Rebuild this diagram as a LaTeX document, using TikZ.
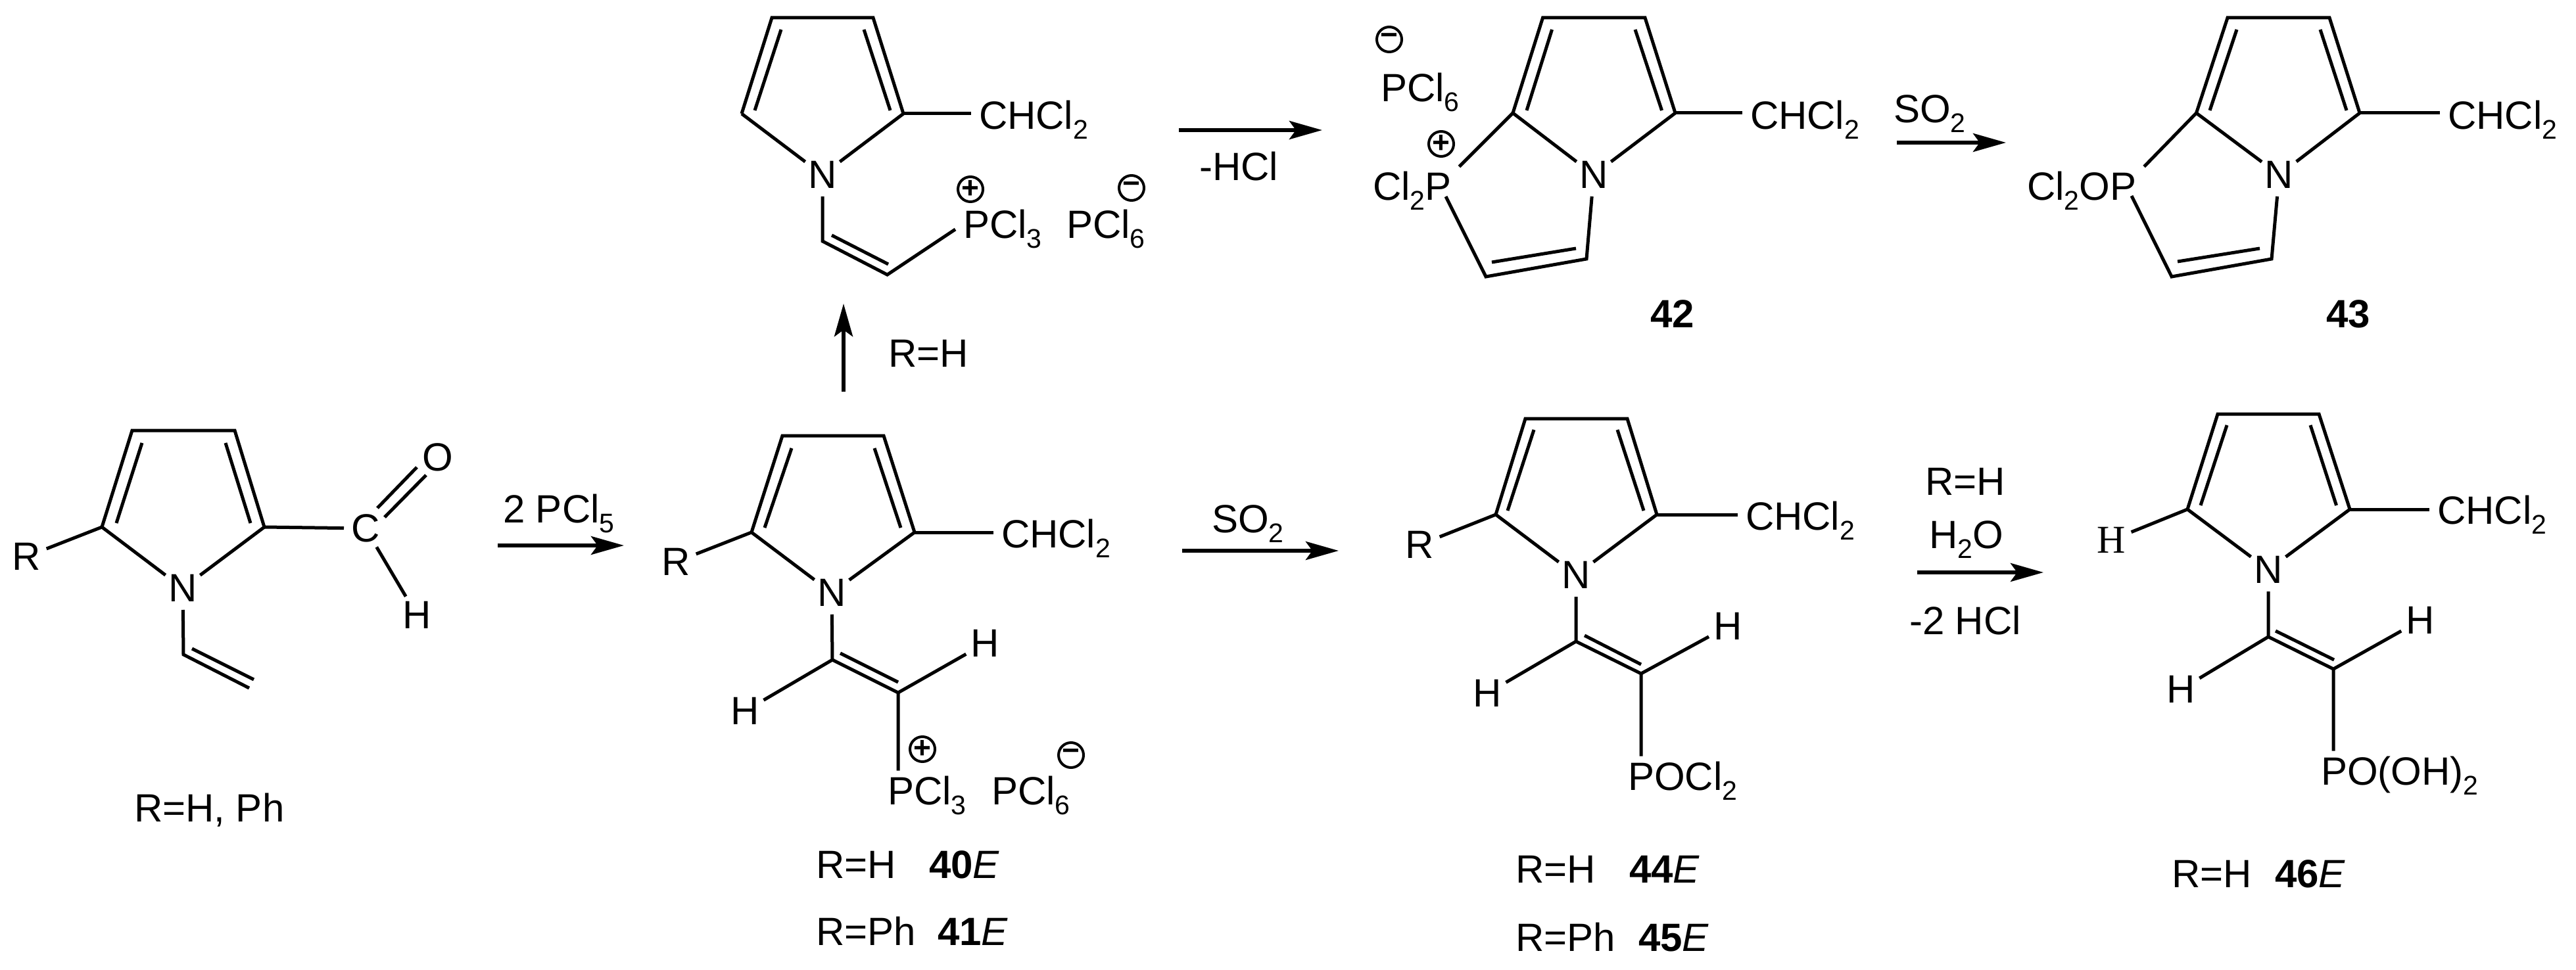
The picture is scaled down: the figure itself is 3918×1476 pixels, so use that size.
\documentclass[tikz,border=0pt]{standalone}
\usepackage{fontspec}
\setmainfont{Liberation Sans}
\newfontfamily\atomserif{Liberation Serif}
\usetikzlibrary{arrows.meta,calc}
\newcommand\fs{\fontsize{30}{32}\selectfont}
\newcommand\dn[1]{\raisebox{-7.5pt}{\fontsize{20.5}{22}\selectfont #1}}
\newcommand\pts[1]{\foreach \n/\x/\y in {#1}{\coordinate (\n) at (\x,\y);}}
\tikzset{
  bond/.style={line width=2.5pt,line join=miter},
  rxn/.style={line width=2.9pt,-{Stealth[length=25pt,width=14pt,inset=5pt]}},
  atom/.style={circle,inner sep=0pt,outer sep=0pt,minimum size=33pt,font=\fs},
  grp/.style={anchor=base west,inner xsep=6pt,inner ysep=4pt,outer sep=0pt,xshift=-7pt,font=\fs},
  txt/.style={anchor=base west,inner sep=0pt,outer sep=0pt,xshift=-2pt,font=\fs},
  ion/.style={circle,draw,line width=2pt,inner sep=0pt,outer sep=0pt,minimum size=19pt,font=\fontsize{23}{24}\selectfont\bfseries},
}
\begin{document}
\begin{tikzpicture}[x=0.5pt,y=-0.5pt]
\useasboundingbox (0,0) rectangle (3918,1476);
% ---------- starting aldehyde
\pts{a1/155/802,at1/201/655,at2/357/655,a2/402/802,a1i/177/796,at1i/216/674,a2i/381/796,at2i/343/674,
     av/279/996,ave/379/1047,avi/292/987,avei/386/1034,
     ao1/574/773,ao2/634/711,ao3/585/787,ao4/648/723}
\node[atom] (aN) at (278,895) {N};
\node[atom] (aR) at (40,847) {R};
\node[atom] (aC) at (556,804) {C};
\node[atom] (aO) at (666,696) {O};
\node[atom] (aH) at (634,936) {H};
\draw[bond] (a1) -- (at1) -- (at2) -- (a2);
\draw[bond] (a1) -- (aN); \draw[bond] (a2) -- (aN);
\draw[bond] (a1i) -- (at1i); \draw[bond] (a2i) -- (at2i);
\draw[bond] (a1) -- (aR);
\draw[bond] (a2) -- (aC);
\draw[bond] (aC) -- (aH);
\draw[bond] (ao1) -- (ao2); \draw[bond] (ao3) -- (ao4);
\draw[bond] (aN) -- (av) -- (ave); \draw[bond] (avi) -- (avei);
\node[txt] (aname) at (208,1250) {R=H, Ph};
% ---------- arrow 1
\pts{r1s/757/830,r1e/949/830}
\draw[rxn] (r1s) -- (r1e);
\node[txt] (r1t) at (769,795) {2 PCl\dn{5}};
% ---------- top Z cation
\pts{b1/1128/173,bt1/1174/27,bt2/1328/27,b2/1374/173,b1i/1148/168,bt1i/1188/45,b2i/1354/168,bt2i/1314/45,
     bv/1251/367,bw/1349.5/418,bvi/1265/358,bwi/1351/402}
\node[atom] (bN) at (1251,266) {N};
\node[grp] (bG) at (1491,197) {CHCl\dn{2}};
\node[grp] (bP) at (1467,363) {PCl\dn{3}};
\node[txt] (bA) at (1626,363) {PCl\dn{6}};
\node[ion] (bplus) at (1476,288) {+};
\node[ion] (bminus) at (1721,286) {−};
\draw[bond] (b1) -- (bt1) -- (bt2) -- (b2);
\draw[bond] (b1) -- (bN); \draw[bond] (b2) -- (bN);
\draw[bond] (b1i) -- (bt1i); \draw[bond] (b2i) -- (bt2i);
\draw[bond] (b2) -- (b2 -| bG.west);
\draw[bond] (bN) -- (bv) -- (bw) -- (bP.west);
\draw[bond] (bvi) -- (bwi);
% ---------- arrow up
\pts{rus/1283/596,rue/1283/462}
\draw[rxn] (rus) -- (rue);
\node[txt] (rut) at (1355,558) {R=H};
% ---------- arrow -HCl
\pts{r2s/1793/198,r2e/2011/198}
\draw[rxn] (r2s) -- (r2e);
\node[txt] (r2t) at (1828,275) {-HCl};
% ---------- 42
\pts{c1/2301/172,ct1/2346.5/27,ct2/2502/27,c2/2548/172,c1i/2322/168,ct1i/2360.5/45,c2i/2527.5/168,ct2i/2487/45,
     cp/2199/299,cv/2260/421,cw/2413/394,cvi/2269/399,cwi/2397/378}
\node[atom] (cN) at (2424,266) {N};
\node[grp] (cG) at (2664,197) {CHCl\dn{2}};
\node[grp] (cP) at (2090,305) {Cl\dn{2}P};
\node[txt] (cA) at (2104,155) {PCl\dn{6}};
\node[ion] (cminus) at (2113,60) {−};
\node[ion] (cplus) at (2192,219) {+};
\node[txt,font=\fs\bfseries] (c42) at (2514,498) {42};
\draw[bond] (c1) -- (ct1) -- (ct2) -- (c2);
\draw[bond] (c1) -- (cN); \draw[bond] (c2) -- (cN);
\draw[bond] (c1i) -- (ct1i); \draw[bond] (c2i) -- (ct2i);
\draw[bond] (c2) -- (c2 -| cG.west);
\draw[bond] (c1) -- (cP.north east);
\draw[bond] (cp) -- (cv) -- (cw) -- (cN);
\draw[bond] (cvi) -- (cwi);
% ---------- arrow SO2 top
\pts{r3s/2885/217,r3e/3051/217}
\draw[rxn] (r3s) -- (r3e);
\node[txt] (r3t) at (2884,187) {SO\dn{2}};
% ---------- 43
\pts{d1/3340.5/172,dt1/3388/27,dt2/3543/27,d2/3589/172,d1i/3361/168,dt1i/3402/45,d2i/3569/168,dt2i/3529/45,
     dp/3242/298,dv/3303/421,dw/3455/394,dvi/3312/398,dwi/3437/378}
\node[atom] (dN) at (3466.5,266) {N};
\node[grp] (dG) at (3725,197) {CHCl\dn{2}};
\node[grp] (dP) at (3085,305) {Cl\dn{2}OP};
\node[txt,font=\fs\bfseries] (d43) at (3542,498) {43};
\draw[bond] (d1) -- (dt1) -- (dt2) -- (d2);
\draw[bond] (d1) -- (dN); \draw[bond] (d2) -- (dN);
\draw[bond] (d1i) -- (dt1i); \draw[bond] (d2i) -- (dt2i);
\draw[bond] (d2) -- (d2 -| dG.west);
\draw[bond] (d1) -- (dP.north east);
\draw[bond] (dp) -- (dv) -- (dw) -- (dN);
\draw[bond] (dvi) -- (dwi);
% ---------- 40E / 41E
\pts{e1/1143/810,et1/1190/663,et2/1344/663,e2/1391/810,e1i/1163/803,et1i/1204/682,e2i/1370/803,et2i/1330/682,
     ev/1266/1004,ew/1366/1054,evi/1278/994,ewi/1366/1038}
\node[atom] (eN) at (1265,902) {N};
\node[atom] (eR) at (1028,855) {R};
\node[atom] (eH1) at (1133,1082) {H};
\node[atom] (eH2) at (1498,979) {H};
\node[grp] (eG) at (1525,833) {CHCl\dn{2}};
\node[grp] (eP) at (1352,1224) {PCl\dn{3}};
\node[txt] (eA) at (1512,1224) {PCl\dn{6}};
\node[ion] (eplus) at (1403,1140) {+};
\node[ion] (eminus) at (1629,1149) {−};
\draw[bond] (e1) -- (et1) -- (et2) -- (e2);
\draw[bond] (e1) -- (eN); \draw[bond] (e2) -- (eN);
\draw[bond] (e1i) -- (et1i); \draw[bond] (e2i) -- (et2i);
\draw[bond] (e1) -- (eR);
\draw[bond] (e2) -- (e2 -| eG.west);
\draw[bond] (eN) -- (ev) -- (ew) -- (ew |- eP.north);
\draw[bond] (evi) -- (ewi);
\draw[bond] (ev) -- (eH1); \draw[bond] (ew) -- (eH2);
\node[txt] (el1) at (1245,1336) {R=H};
\node[txt] (en1) at (1417,1336) {\textbf{40}\textit{E}};
\node[txt] (el2) at (1245,1438) {R=Ph};
\node[txt] (en2) at (1430,1438) {\textbf{41}\textit{E}};
% ---------- arrow SO2 lower
\pts{r4s/1798/838,r4e/2036/838}
\draw[rxn] (r4s) -- (r4e);
\node[txt] (r4t) at (1847,810) {SO\dn{2}};
% ---------- 44E / 45E
\pts{f1/2275/783,ft1/2320/637,ft2/2475/637,f2/2520/783,f1i/2293/777,ft1i/2333/654,f2i/2500/777,ft2i/2460/654,
     fv/2397/976,fw/2496/1025,fvi/2410/967,fwi/2496/1011}
\node[atom] (fN) at (2397,875) {N};
\node[atom] (fR) at (2159,829) {R};
\node[atom] (fH1) at (2262,1055) {H};
\node[atom] (fH2) at (2628,953) {H};
\node[grp] (fG) at (2657,806) {CHCl\dn{2}};
\node[grp] (fP) at (2478,1202) {POCl\dn{2}};
\draw[bond] (f1) -- (ft1) -- (ft2) -- (f2);
\draw[bond] (f1) -- (fN); \draw[bond] (f2) -- (fN);
\draw[bond] (f1i) -- (ft1i); \draw[bond] (f2i) -- (ft2i);
\draw[bond] (f1) -- (fR);
\draw[bond] (f2) -- (f2 -| fG.west);
\draw[bond] (fN) -- (fv) -- (fw) -- (fw |- fP.north);
\draw[bond] (fvi) -- (fwi);
\draw[bond] (fv) -- (fH1); \draw[bond] (fw) -- (fH2);
\node[txt] (fl1) at (2309,1343) {R=H};
\node[txt] (fn1) at (2482,1343) {\textbf{44}\textit{E}};
\node[txt] (fl2) at (2309,1447) {R=Ph};
\node[txt] (fn2) at (2496,1447) {\textbf{45}\textit{E}};
% ---------- arrow water
\pts{r5s/2916/871,r5e/3108/871}
\draw[rxn] (r5s) -- (r5e);
\node[txt] (r5a) at (2932,753) {R=H};
\node[txt] (r5b) at (2938,834) {H\dn{2}O};
\node[txt] (r5c) at (2908,965) {-2 HCl};
% ---------- 46E
\pts{g1/3327/775,gt1/3373/630,gt2/3527/630,g2/3574/775,g1i/3347/769,gt1i/3387/647,g2i/3553.5/769,gt2i/3514/647,
     gv/3450/969,gw/3549/1018,gvi/3461/960,gwi/3550/1004}
\node[atom] (gN) at (3450,867) {N};
\node[atom,font=\fs\atomserif] (gR) at (3211,822) {H};
\node[atom] (gH1) at (3317,1049) {H};
\node[atom] (gH2) at (3681,944) {H};
\node[grp] (gG) at (3709,797) {CHCl\dn{2}};
\node[grp] (gP) at (3532,1194) {PO(OH)\dn{2}};
\draw[bond] (g1) -- (gt1) -- (gt2) -- (g2);
\draw[bond] (g1) -- (gN); \draw[bond] (g2) -- (gN);
\draw[bond] (g1i) -- (gt1i); \draw[bond] (g2i) -- (gt2i);
\draw[bond] (g1) -- (gR);
\draw[bond] (g2) -- (g2 -| gG.west);
\draw[bond] (gN) -- (gv) -- (gw) -- (gw |- gP.north);
\draw[bond] (gvi) -- (gwi);
\draw[bond] (gv) -- (gH1); \draw[bond] (gw) -- (gH2);
\node[txt] (gl1) at (3307,1350) {R=H};
\node[txt] (gn1) at (3464,1350) {\textbf{46}\textit{E}};
\end{tikzpicture}
\end{document}
